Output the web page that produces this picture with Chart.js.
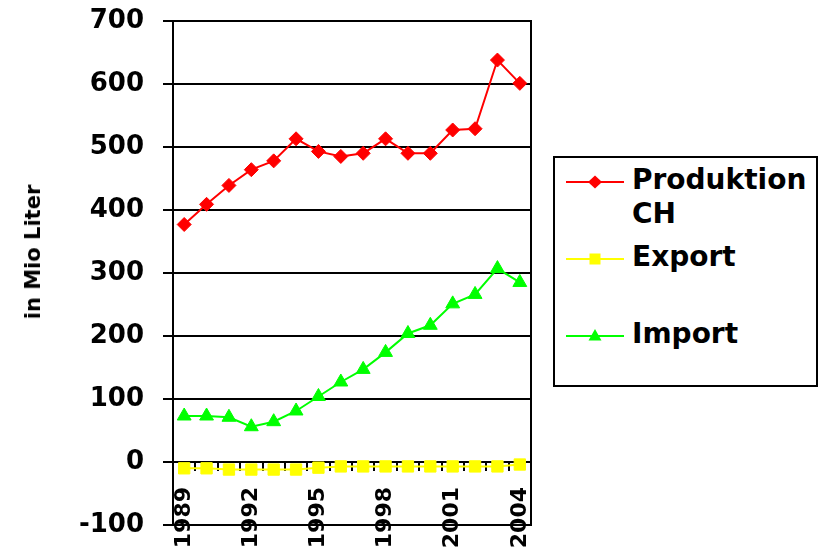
<!DOCTYPE html>
<html>
<head>
<meta charset="utf-8">
<script src="https://cdn.jsdelivr.net/npm/chart.js@4.4.1/dist/chart.umd.min.js"></script>
<style>
  html, body { margin: 0; padding: 0; background: #fff; }
  #wrap { position: relative; width: 821px; height: 553px; overflow: hidden; }
  #chart { position: absolute; left: 0; top: 0; }
  #ytitle {
    position: absolute; left: 33px; top: 252px; white-space: nowrap;
    font: bold 21px "DejaVu Sans", sans-serif; color: #000; line-height: 24px;
    transform: translate(-50%, -50%) rotate(-90deg);
  }
  #legend {
    position: absolute; left: 553px; top: 156px; width: 265px; height: 231px;
    border: 2px solid #000; box-sizing: border-box; background: #fff;
    font: bold 28px "DejaVu Sans", sans-serif; color: #000;
  }
  #legend .row { position: absolute; left: 0; width: 100%; }
  #legend svg { position: absolute; left: 11px; top: 3px; }
  #legend .txt { position: absolute; left: 77px; top: 0; width: 182px; line-height: 34px; }
</style>
</head>
<body>
<div id="wrap">
  <canvas id="chart" width="821" height="553"></canvas>
  <div id="ytitle"></div>
  <div id="legend"></div>
</div>
<script>
// Years on the category axis and the ones that carry a label
const years = ['1989','1990','1991','1992','1993','1994','1995','1996',
               '1997','1998','1999','2000','2001','2002','2003','2004'];
const shownYears = ['1989','1992','1995','1998','2001','2004'];

// Volumes in million litres
const produktion = [377, 409, 439, 464, 478, 513, 493, 485, 490, 513, 490, 490, 527, 529, 638, 601];
const exportVals = [-10, -10, -12, -12, -12, -12, -9, -7, -7, -7, -7, -7, -7, -7, -7, -4];
const importVals = [73, 73, 71, 56, 64, 81, 104, 127, 147, 174, 204, 217, 251, 266, 307, 285];

const seriesNames   = ['Produktion CH', 'Export', 'Import'];
const seriesColors  = ['#ff0000', '#ffff00', '#00ff00'];
const seriesMarkers = ['rectRot', 'rect', 'triangle'];
const markerRadius  = [7, 8, 8];

// Y axis range, step and title
const yMin = -100, yMax = 700, yStep = 100;
const yTitle = 'in Mio Liter';

const FONT = '"DejaVu Sans", sans-serif';

const seriesValues = [produktion, exportVals, importVals];
const datasets = seriesNames.map((name, i) => ({
  label: name,
  data: seriesValues[i],
  borderColor: seriesColors[i],
  backgroundColor: seriesColors[i],
  borderWidth: 2,
  pointStyle: seriesMarkers[i],
  pointRadius: markerRadius[i],
  pointBorderWidth: 1,
  pointBorderColor: seriesColors[i],
  pointBackgroundColor: seriesColors[i],
  tension: 0,
  fill: false
}));

// Scales sit exactly where the layout padding puts them
const noPadding = s => { s.paddingTop = 0; s.paddingBottom = 0; s.paddingLeft = 0; s.paddingRight = 0; };

const chart = new Chart(document.getElementById('chart'), {
  type: 'line',
  data: { labels: years, datasets },
  options: {
    responsive: false,
    animation: false,
    layout: { padding: { top: 21, right: 290, bottom: 28, left: 0 } },
    plugins: { legend: { display: false }, tooltip: { enabled: false } },
    scales: {
      x: {
        position: { y: 0 },
        offset: true,
        grid: { display: true, offset: true, drawOnChartArea: false, drawTicks: true,
                tickLength: 8, color: '#000', lineWidth: 2 },
        border: { display: true, color: '#000', width: 2 },
        ticks: {
          autoSkip: false, minRotation: 90, maxRotation: 90, padding: 17,
          color: '#000', font: { family: FONT, size: 22, weight: 'bold' },
          callback: (v, i) => shownYears.includes(years[i]) ? years[i] : ''
        },
        afterFit: noPadding
      },
      y: {
        min: yMin, max: yMax,
        ticks: { stepSize: yStep, padding: 19, color: '#000',
                 font: { family: FONT, size: 26, weight: 'bold' } },
        grid: { color: '#000', lineWidth: 2, tickLength: 10 },
        border: { color: '#000', width: 2 },
        afterFit: s => { noPadding(s); s.width = 173; }
      },
      yRight: {
        position: 'right', display: true,
        ticks: { display: false },
        grid: { display: false, drawTicks: false },
        border: { display: true, color: '#000', width: 2 },
        afterFit: s => { noPadding(s); s.width = 0; }
      }
    }
  }
});

document.getElementById('ytitle').textContent = yTitle;

// Legend built from the chart's datasets: line sample with marker, then the name
const legendRowTops = [5, 82, 159];
function markerSvg(style, color) {
  let shape;
  if (style === 'rectRot') shape = `<polygon points="29,9.5 36,16 29,22.5 22,16" fill="${color}"/>`;
  else if (style === 'rect') shape = `<rect x="23.5" y="10.5" width="11" height="11" fill="${color}"/>`;
  else shape = `<polygon points="29,9 35.5,20.5 22.5,20.5" fill="${color}"/>`;
  return `<svg width="58" height="32" viewBox="0 0 58 32">` +
         `<line x1="0" y1="16" x2="58" y2="16" stroke="${color}" stroke-width="2"/>${shape}</svg>`;
}
const legendEl = document.getElementById('legend');
chart.data.datasets.forEach((ds, i) => {
  const row = document.createElement('div');
  row.className = 'row';
  row.style.top = legendRowTops[i] + 'px';
  row.innerHTML = markerSvg(ds.pointStyle, ds.borderColor) +
                  `<div class="txt">${ds.label}</div>`;
  legendEl.appendChild(row);
});
</script>
</body>
</html>
